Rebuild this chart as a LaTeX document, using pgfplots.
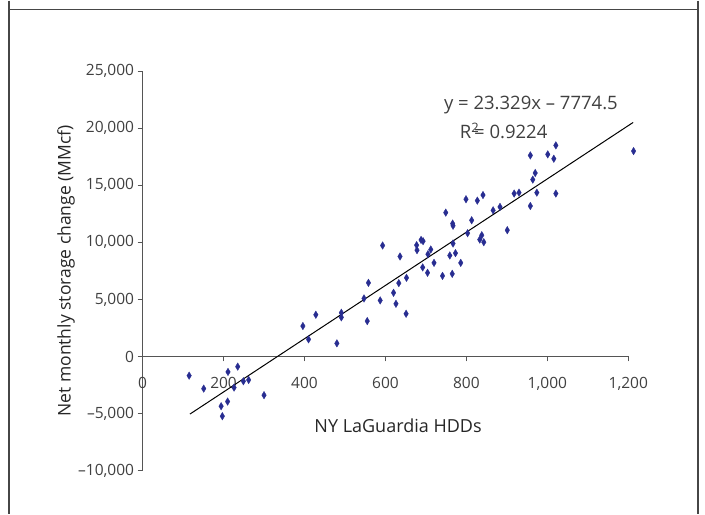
\documentclass[border=0pt]{standalone}
\usepackage{fontspec}
\setmainfont{Open Sans}
\usepackage{pgfplots}
\pgfplotsset{compat=1.18}
\usepackage{pgfplotstable}
\definecolor{markblue}{RGB}{40,45,145}
\definecolor{axgray}{RGB}{85,85,85}
\definecolor{txtgray}{RGB}{64,64,64}
\definecolor{framegray}{RGB}{70,70,70}
\pgfplotstableread{
x y
115 -1680
151 -2815
194 -4355
197 -5230
210 -3950
211 -1355
226 -2725
235 -890
249 -2170
262 -2055
300 -3390
396 2665
410 1500
428 3655
480 1150
491 3830
491 3425
547 5085
555 3100
558 6450
587 4910
593 9720
620 5580
626 4615
633 6425
636 8760
651 3740
652 6890
677 9750
678 9310
688 10210
693 10100
692 7800
704 7330
705 8960
712 9370
720 8200
741 7060
749 12600
759 8845
765 7240
766 11640
767 11450
767 9895
773 9050
786 8200
799 13770
803 10800
813 11930
827 13650
833 10240
838 10620
841 14140
843 10010
866 12800
883 13100
901 11060
918 14270
930 14350
958 17610
958 13180
964 15490
970 16070
974 14350
1001 17700
1016 17320
1021 18490
1021 14270
1213 17990
}\datatable
\begin{document}
\begin{tikzpicture}
\begin{axis}[
  scale only axis,
  width=485.7pt, height=399.6pt,
  xmin=0, xmax=1200, ymin=-10000, ymax=25000,
  axis lines*=middle,
  axis line style={axgray, line width=1.1pt},
  every inner x axis line/.append style={-},
  every inner y axis line/.append style={-},
  tick align=outside,
  major tick length=5pt,
  tick style={axgray, line width=1pt},
  hide obscured x ticks=false,
  hide obscured y ticks=false,
  scaled y ticks=false,
  scaled x ticks=false,
  xtick={0,200,400,600,800,1000,1200},
  xticklabels={0,200,400,600,800,{1,000},{1,200}},
  ytick={-10000,-5000,0,5000,10000,15000,20000,25000},
  yticklabels={{–10,000},{–5,000},0,{5,000},{10,000},{15,000},{20,000},{25,000}},
  ticklabel style={font=\fontsize{15.5}{18}\selectfont, text=txtgray},
  xticklabel style={yshift=-12pt},
  xlabel={NY LaGuardia HDDs},
  ylabel={Net monthly storage change (MMcf)},
  every axis x label/.style={at={(axis description cs:0.526,0.1126)}, anchor=center, font=\fontsize{18}{21}\selectfont, text=black!85},
  every axis y label/.style={at={(axis description cs:-0.1577,0.5)}, anchor=center, rotate=90, font=\fontsize{17.5}{21}\selectfont, text=black!85},
  clip=false,
]
\addplot[only marks, mark=diamond*, mark size=3.8pt, mark options={xscale=0.8, fill=markblue, draw=markblue, line width=0.3pt}] table[x=x, y=y] {\datatable};
\addplot[black, line width=1pt] coordinates {(117,-5045) (1212,20500)};
\node[anchor=west, font=\fontsize{18.5}{21}\selectfont, text=txtgray] at (axis cs:736,21985) {y = 23.329x – 7774.5};
\node[anchor=west, font=\fontsize{18.5}{21}\selectfont, text=txtgray] at (axis cs:775,19750) {R\raisebox{0.6ex}{\fontsize{13}{13}\selectfont 2}\kern-4.5pt= 0.9224};
\coordinate (O) at (axis cs:0,-10000);
\end{axis}
\draw[framegray, line width=1.3pt] ([xshift=-133.6pt,yshift=470pt]O) -- ([xshift=-133.6pt,yshift=-43pt]O);
\draw[framegray, line width=1.3pt] ([xshift=555.4pt,yshift=470pt]O) -- ([xshift=555.4pt,yshift=-43pt]O);
\draw[framegray, line width=1.3pt] ([xshift=-133.6pt,yshift=461pt]O) -- ([xshift=555.4pt,yshift=461pt]O);
\path ([xshift=-142.6pt,yshift=470pt]O) rectangle ([xshift=562.4pt,yshift=-43pt]O);
\end{tikzpicture}
\end{document}
